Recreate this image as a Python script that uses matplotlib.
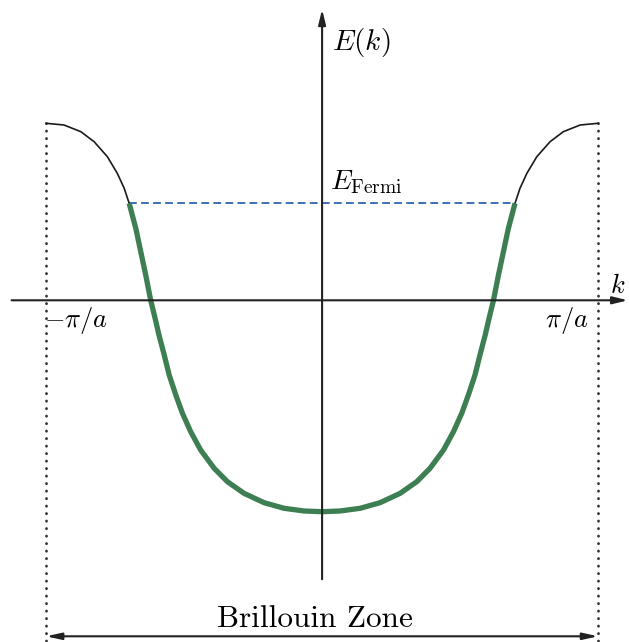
import numpy as np
import matplotlib.pyplot as plt

plt.rcParams['mathtext.fontset'] = 'cm'
plt.rcParams['font.family'] = 'cmr10'
plt.rcParams['axes.formatter.use_mathtext'] = True

# one band over the first zone: k in units of pi/a, energy in arbitrary units
k_half = [0.0, 0.065, 0.138, 0.210, 0.283, 0.343, 0.391, 0.440, 0.476,
          0.506, 0.530, 0.554, 0.572, 0.591, 0.605, 0.621, 0.639, 0.657,
          0.675, 0.699, 0.717, 0.742, 0.778, 0.826, 0.874, 0.935, 1.0]
E_half = [-2.114, -2.107, -2.080, -2.024, -1.930, -1.814, -1.680, -1.497,
          -1.314, -1.130, -0.947, -0.747, -0.547, -0.347, -0.180, 0.0,
          0.253, 0.486, 0.720, 0.970, 1.120, 1.270, 1.436, 1.586, 1.686,
          1.753, 1.770]
E_fermi = 0.970
zone_edge = 1.0

k = np.concatenate([-np.array(k_half[::-1]), np.array(k_half[1:])])
E = np.concatenate([np.array(E_half[::-1]), np.array(E_half[1:])])

# filled states (below the Fermi level)
filled = E <= E_fermi + 1e-9
k_occ = k[filled]
E_occ = E[filled]

fig = plt.figure(figsize=(6.29, 6.42), dpi=100)
ax = fig.add_axes([0, 0, 1, 1])
ax.set_xlim(-1.167, 1.112)
ax.set_ylim(-3.417, 3.003)
ax.axis('off')

arrow = dict(arrowstyle='-|>,head_length=0.9,head_width=0.22', color='#222222',
             lw=1.5, shrinkA=0, shrinkB=0)

# coordinate axes
ax.annotate('', xy=(1.108, 0), xytext=(-1.125, 0), arrowprops=arrow)
ax.annotate('', xy=(0, 2.91), xytext=(0, -2.79), arrowprops=arrow)

# zone boundaries
for kb in (-zone_edge, zone_edge):
    ax.plot([kb, kb], [E_half[-1], -3.417], color='#333333', lw=2.0,
            linestyle=(0, (0.1, 2.6)), dash_capstyle='round')

# Fermi level
k_f = k_occ.max()
ax.plot([-k_f, k_f], [E_fermi, E_fermi], color='#3b6fb6', lw=1.4,
        linestyle=(0, (4, 2.2)))

# band and occupied part
ax.plot(k, E, color='#1a1a1a', lw=1.2)
ax.plot(k_occ, E_occ, color='#3d7f52', lw=3.8, solid_capstyle='butt')

# Brillouin zone span
ax.annotate('', xy=(zone_edge, -3.36), xytext=(-zone_edge, -3.36),
            arrowprops=dict(arrowstyle='<|-|>,head_length=0.9,head_width=0.2',
                            color='#222222', lw=1.5, shrinkA=0, shrinkB=0))

ax.text(0.036, 2.58, '$E(k)$', fontsize=21, ha='left', va='center')
ax.text(0.029, 1.18, r'$E_{\mathrm{Fermi}}$', fontsize=20, ha='left', va='center')
ax.text(-0.891, -0.20, r'$-\pi/a$', fontsize=19, ha='center', va='center')
ax.text(0.888, -0.20, r'$\pi/a$', fontsize=19, ha='center', va='center')
ax.text(1.072, 0.14, '$k$', fontsize=19, ha='center', va='center')
ax.text(-0.025, -3.19, 'Brillouin Zone', fontsize=22.5, ha='center', va='center')

fig.savefig('out.png', dpi=100)
